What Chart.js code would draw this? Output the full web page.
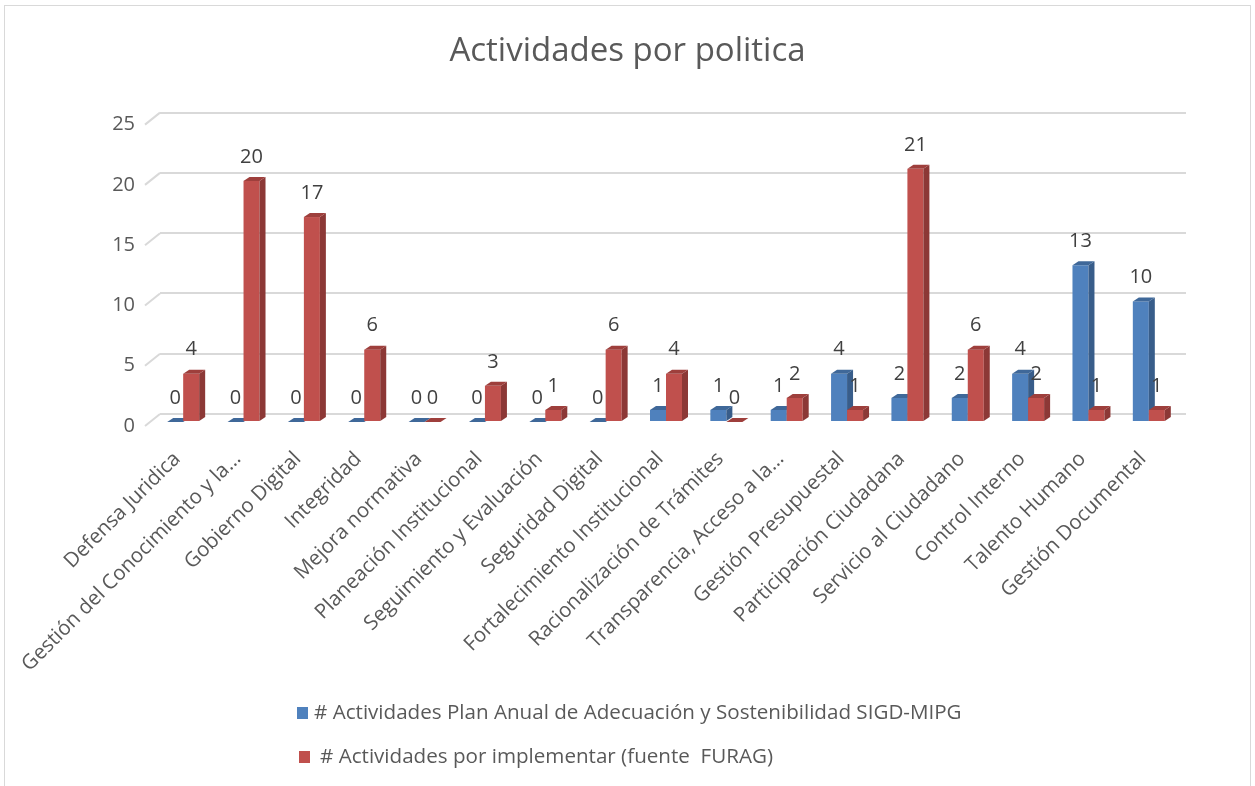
<!DOCTYPE html>
<html>
<head>
<meta charset="utf-8">
<script src="https://cdn.jsdelivr.net/npm/chart.js@4.4.0/dist/chart.umd.min.js"></script>
<style>
  body { margin: 0; background: #fff; overflow: hidden; }
  #wrap { position: absolute; left: 4px; top: 5px; width: 1245px; height: 790px; border: 1px solid #d9d9d9; background: #fff; }
</style>
</head>
<body>
<div id="wrap"><canvas id="chart"></canvas></div>
<script>
const categories = [
  "Defensa Juridica", "Gestión del Conocimiento y la…", "Gobierno Digital", "Integridad",
  "Mejora normativa", "Planeación Institucional", "Seguimiento y Evaluación", "Seguridad Digital",
  "Fortalecimiento Institucional", "Racionalización de Trámites", "Transparencia, Acceso a la…",
  "Gestión Presupuestal", "Participación Ciudadana", "Servicio al Ciudadano", "Control Interno",
  "Talento Humano", "Gestión Documental"
];
const planAnual = [0, 0, 0, 0, 0, 0, 0, 0, 1, 1, 1, 4, 2, 2, 4, 13, 10];
const porImplementar = [4, 20, 17, 6, 0, 3, 1, 6, 4, 0, 2, 1, 21, 6, 2, 1, 1];
const seriesNames = [
  "# Actividades Plan Anual de Adecuación y Sostenibilidad SIGD-MIPG",
  "# Actividades por implementar (fuente  FURAG)"
];
const yMax = 25;
const yStep = 5;

const FONT = "'Open Sans', 'DejaVu Sans', sans-serif";
const GRID = "#d9d9d9";
const FRONT_DX = -7, FRONT_DY = 8;   // bars sit in front of the back wall
const DEPTH_DX = 6, DEPTH_DY = -4;   // bar depth
const faces = [
  { front: "#4f81bd", side: "#385d8a", top: "#3f6899" },
  { front: "#c0504d", side: "#8c3836", top: "#9e3f3c" }
];

// 3d look: draws all bars itself, then the value labels
const bars3d = {
  id: "bars3d",
  beforeDatasetsDraw(chart) {
    const ctx = chart.ctx;
    const area = chart.chartArea;
    const yScale = chart.scales.y;
    ctx.save();
    // diagonal floor/wall ticks on the left
    ctx.strokeStyle = GRID;
    ctx.lineWidth = 2;
    for (let v = 0; v <= yMax; v += yStep) {
      const y = yScale.getPixelForValue(v);
      ctx.beginPath();
      ctx.moveTo(area.left, y);
      ctx.lineTo(area.left - 15, y + 12);
      ctx.stroke();
    }
    const metas = [chart.getDatasetMeta(0), chart.getDatasetMeta(1)];
    const labels = [];
    for (let i = 0; i < categories.length; i++) {
      metas.forEach((meta, d) => {
        const bar = meta.data[i];
        const c = faces[d];
        const w = bar.width;
        const left = bar.x - w / 2 + FRONT_DX;
        const right = left + w;
        const top = bar.y + FRONT_DY;
        const bottom = bar.base + FRONT_DY;
        ctx.fillStyle = c.front;
        ctx.fillRect(left, top, w, bottom - top);
        ctx.fillStyle = c.side;
        ctx.beginPath();
        ctx.moveTo(right, top);
        ctx.lineTo(right + DEPTH_DX, top + DEPTH_DY);
        ctx.lineTo(right + DEPTH_DX, bottom + DEPTH_DY);
        ctx.lineTo(right, bottom);
        ctx.closePath();
        ctx.fill();
        ctx.fillStyle = c.top;
        ctx.beginPath();
        ctx.moveTo(left, top);
        ctx.lineTo(left + DEPTH_DX, top + DEPTH_DY);
        ctx.lineTo(right + DEPTH_DX, top + DEPTH_DY);
        ctx.lineTo(right, top);
        ctx.closePath();
        ctx.fill();
        labels.push({ x: left + w / 2, y: top - 24, text: String(chart.data.datasets[d].data[i]) });
      });
    }
    ctx.font = "20px " + FONT;
    ctx.fillStyle = "#404040";
    ctx.textAlign = "center";
    ctx.textBaseline = "middle";
    labels.forEach((l) => ctx.fillText(l.text, l.x, l.y));
    ctx.restore();
    return false;
  },
  afterDraw(chart) {
    // stacked legend under the axis labels
    const ctx = chart.ctx;
    ctx.save();
    ctx.font = "20.6px " + FONT;
    ctx.textBaseline = "middle";
    ctx.textAlign = "left";
    const rows = [
      { box: [292, 701], text: [309, 707] },
      { box: [294, 745], text: [315, 751] }
    ];
    rows.forEach((r, d) => {
      ctx.fillStyle = faces[d].front;
      ctx.fillRect(r.box[0], r.box[1], 11, 12);
      ctx.fillStyle = "#595959";
      ctx.fillText(seriesNames[d], r.text[0], r.text[1]);
    });
    ctx.restore();
  }
};

new Chart(document.getElementById("chart"), {
  type: "bar",
  data: {
    labels: categories,
    datasets: [
      { label: seriesNames[0], data: planAnual, backgroundColor: faces[0].front },
      { label: seriesNames[1], data: porImplementar, backgroundColor: faces[1].front }
    ]
  },
  options: {
    responsive: true,
    maintainAspectRatio: false,
    animation: false,
    layout: { padding: 0 },
    datasets: { bar: { categoryPercentage: 0.53, barPercentage: 1 } },
    plugins: {
      legend: { display: false },
      tooltip: { enabled: false },
      title: {
        display: true,
        text: "Actividades por politica",
        color: "#595959",
        font: { family: FONT, size: 33, weight: "normal" },
        padding: { top: 26, bottom: 41 }
      }
    },
    scales: {
      x: {
        grid: { display: false, drawTicks: false },
        border: { display: false },
        ticks: {
          autoSkip: false,
          minRotation: 45,
          maxRotation: 45,
          padding: 33,
          labelOffset: -13,
          color: "#595959",
          font: { family: FONT, size: 20.5 }
        },
        afterFit(s) { s.height = 382; s.paddingLeft = 0; s.paddingRight = 0; }
      },
      y: {
        min: 0,
        max: yMax,
        grid: { color: GRID, lineWidth: 2, drawTicks: false },
        border: { display: false },
        ticks: {
          stepSize: yStep,
          padding: 25,
          labelOffset: 12,
          color: "#595959",
          font: { family: FONT, size: 20 }
        },
        afterFit(s) { s.width = 155; }
      },
      // empty strip on the right so the title stays centred on the whole frame
      rightSpace: {
        type: "linear",
        position: "right",
        grid: { display: false, drawTicks: false },
        border: { display: false },
        ticks: { display: false },
        afterFit(s) { s.width = 64; }
      }
    }
  },
  plugins: [bars3d]
});
</script>
</body>
</html>
